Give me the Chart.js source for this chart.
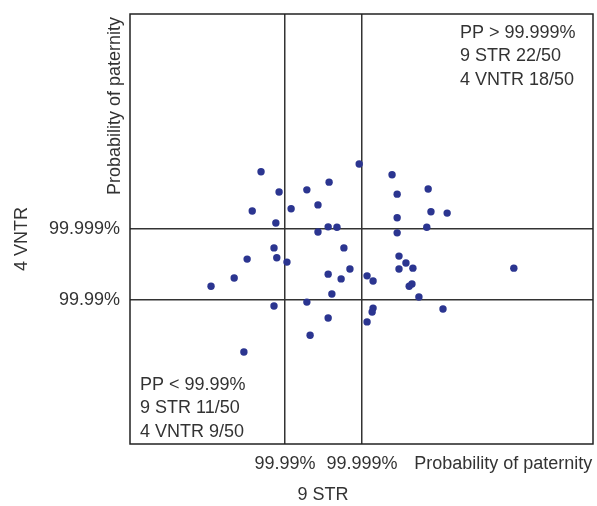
<!DOCTYPE html>
<html>
<head>
<meta charset="utf-8">
<script src="https://cdn.jsdelivr.net/npm/chart.js@4.4.1/dist/chart.umd.min.js"></script>
<style>
  html, body { margin: 0; padding: 0; background: #fff; }
  #wrap { width: 597px; height: 506px; }
</style>
</head>
<body>
<div id="wrap"><canvas id="c"></canvas></div>
<script>
// probability of paternity per case, plotted on an arbitrary 0-100 rank scale
const strScores = [
  28.3, 32.2, 38.2, 43.0, 26.4, 34.8, 40.6, 31.5, 40.6, 42.8,
  31.1, 49.5, 56.6, 57.7, 64.4, 65.0, 68.5, 57.7, 44.7, 57.7,
  64.1, 46.2, 25.3, 31.7, 33.9, 42.8, 22.5, 17.5, 38.2, 31.1,
  42.8, 38.9, 24.6, 58.1, 59.6, 47.5, 58.1, 61.1, 51.2, 52.5,
  45.6, 60.9, 60.3, 43.6, 62.4, 82.9, 52.5, 52.3, 67.6, 51.2
];
const vntrScores = [
  63.3, 58.6, 59.1, 60.9, 54.2, 54.7, 55.6, 51.4, 49.3, 50.5,
  45.6, 65.1, 62.6, 58.1, 59.3, 54.0, 53.7, 52.6, 50.4, 49.1,
  50.4, 45.6, 43.0, 43.3, 42.3, 39.5, 38.6, 36.7, 33.0, 32.1,
  29.3, 25.3, 21.4, 43.7, 42.1, 40.7, 40.7, 40.9, 39.1, 37.9,
  38.4, 37.2, 36.7, 34.9, 34.2, 40.9, 31.6, 30.7, 31.4, 28.4
];

const xTickValues = [33.5, 50.1, 80.6];
const xTickLabels = ["99.99%", "99.999%", "Probability of paternity"];
const yTickValues = [33.5, 50];
const yTickLabels = ["99.99%", "99.999%"];

const topRightNote = ["PP > 99.999%", "9 STR 22/50", "4 VNTR 18/50"];
const bottomLeftNote = ["PP < 99.99%", "9 STR 11/50", "4 VNTR 9/50"];

const FONT = '"Liberation Sans", Arial, sans-serif';
const TEXT = '#333';

const points = strScores.map((x, i) => ({ x: x, y: vntrScores[i] }));

// box, free text, rotated labels
const extras = {
  id: 'extras',
  beforeDatasetsDraw(chart) {
    const a = chart.chartArea;
    const ctx = chart.ctx;
    ctx.save();
    ctx.strokeStyle = '#222';
    ctx.lineWidth = 1.5;
    ctx.strokeRect(a.left, a.top, a.right - a.left, a.bottom - a.top);
    ctx.restore();
  },
  afterDraw(chart) {
    const ctx = chart.ctx;
    ctx.save();
    ctx.fillStyle = TEXT;
    ctx.font = '18px ' + FONT;
    ctx.textBaseline = 'middle';

    ctx.textAlign = 'left';
    topRightNote.forEach((t, i) => ctx.fillText(t, 460, 33 + i * 23.5));
    bottomLeftNote.forEach((t, i) => ctx.fillText(t, 140, 385 + i * 23.5));

    ctx.textAlign = 'center';
    ctx.fillText('9 STR', 323, 495);

    ctx.save();
    ctx.translate(115, 106);
    ctx.rotate(-Math.PI / 2);
    ctx.fillText('Probability of paternity', 0, 0);
    ctx.restore();

    ctx.save();
    ctx.translate(22, 239);
    ctx.rotate(-Math.PI / 2);
    ctx.fillText('4 VNTR', 0, 0);
    ctx.restore();

    ctx.restore();
  }
};

new Chart(document.getElementById('c'), {
  type: 'scatter',
  data: {
    datasets: [{
      data: points,
      backgroundColor: '#2b3590',
      borderWidth: 0,
      pointRadius: 3.7,
      pointHoverRadius: 3.7
    }]
  },
  options: {
    responsive: true,
    maintainAspectRatio: false,
    animation: false,
    devicePixelRatio: 1,
    layout: { padding: { left: 0, right: 4, top: 14, bottom: 0 } },
    plugins: { legend: { display: false }, tooltip: { enabled: false } },
    scales: {
      x: {
        type: 'linear',
        min: 0,
        max: 100,
        afterFit(s) { s.height = 62; s.paddingLeft = 0; s.paddingRight = 0; },
        afterBuildTicks(s) { s.ticks = xTickValues.map(v => ({ value: v })); },
        border: { display: false },
        grid: {
          drawTicks: false,
          lineWidth: 1.5,
          color: c => (c.tick && c.tick.value === xTickValues[2]) ? 'rgba(0,0,0,0)' : '#333'
        },
        ticks: {
          padding: 9,
          maxRotation: 0,
          autoSkip: false,
          color: TEXT,
          font: { family: FONT, size: 18 },
          callback: (v) => xTickLabels[xTickValues.indexOf(v)]
        }
      },
      y: {
        type: 'linear',
        min: 0,
        max: 100,
        afterFit(s) { s.width = 130; s.paddingTop = 0; s.paddingBottom = 0; },
        afterBuildTicks(s) { s.ticks = yTickValues.map(v => ({ value: v })); },
        border: { display: false },
        grid: { drawTicks: false, lineWidth: 1.5, color: '#333' },
        ticks: {
          padding: 10,
          autoSkip: false,
          color: TEXT,
          font: { family: FONT, size: 18 },
          callback: (v) => yTickLabels[yTickValues.indexOf(v)]
        }
      }
    }
  },
  plugins: [extras]
});
</script>
</body>
</html>
